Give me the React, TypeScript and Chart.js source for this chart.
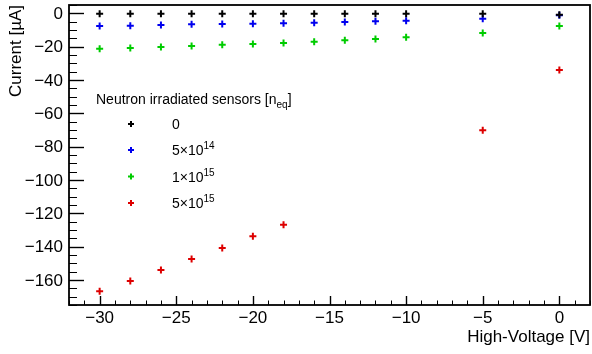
import React, { useEffect, useRef } from "react";
import { Chart, registerables } from "chart.js";

Chart.register(...registerables);

const voltages = [-30, -28, -26, -24, -22, -20, -18, -16, -14, -12, -10, -5, 0];
const current0 = [-0.3, -0.3, -0.3, -0.3, -0.3, -0.3, -0.3, -0.3, -0.3, -0.3, -0.3, -0.3, -0.8];
const current5e14 = [-7.6, -7.4, -7.0, -6.6, -6.4, -6.2, -6.0, -5.6, -5.2, -4.8, -4.4, -3.2, -1.2];
const current1e15 = [-21.2, -20.8, -20.2, -19.6, -18.8, -18.4, -17.8, -17.0, -16.2, -15.4, -14.4, -11.8, -7.6];
const voltages5e15 = [-30, -28, -26, -24, -22, -20, -18, -5, 0];
const current5e15 = [-166.8, -160.6, -154.0, -147.4, -140.8, -133.8, -126.8, -70.2, -34.0];

const xTickValues = [-30, -25, -20, -15, -10, -5, 0];
const yTickValues = [-160, -140, -120, -100, -80, -60, -40, -20, 0];
const xTitle = "High-Voltage [V]";
const yTitle = "Current [\u00b5A]";

const legendTitle = "Neutron irradiated sensors [n";
const legendTitleSub = "eq";
const legendEntries = [
  { base: "0", exp: "", color: "#000000" },
  { base: "5\u00d710", exp: "14", color: "#0000ee" },
  { base: "1\u00d710", exp: "15", color: "#00cc00" },
  { base: "5\u00d710", exp: "15", color: "#dd0000" },
];

const FONT = "'Liberation Sans', Arial, Helvetica, sans-serif";

const fmt = (v: number) => (v < 0 ? "\u2212" + Math.abs(v) : String(v));

const rootPlugin = {
  id: "rootStyle",
  afterDraw(chart: any) {
    const ctx = chart.ctx as CanvasRenderingContext2D;
    const { left, right, top, bottom } = chart.chartArea;
    const xs = chart.scales.x;
    const ys = chart.scales.y;
    ctx.save();
    ctx.strokeStyle = "#000";
    // x ticks
    for (let v = -32; v <= 2; v += 1) {
      const px = Math.round(xs.getPixelForValue(v)) + 0.5;
      const major = v % 5 === 0;
      ctx.lineWidth = major ? 1.4 : 1;
      ctx.beginPath();
      ctx.moveTo(px, bottom);
      ctx.lineTo(px, bottom - (major ? 9 : 4.5));
      ctx.stroke();
    }
    // y ticks
    for (let v = -175; v <= 5; v += 5) {
      const py = Math.round(ys.getPixelForValue(v)) + 0.5;
      const major = v % 20 === 0;
      ctx.lineWidth = major ? 1.4 : 1;
      ctx.beginPath();
      ctx.moveTo(left, py);
      ctx.lineTo(left + (major ? 15 : 8), py);
      ctx.stroke();
    }
    // frame
    ctx.lineWidth = 1.8;
    ctx.strokeRect(left, top, right - left, bottom - top);

    // tick labels
    ctx.fillStyle = "#000";
    ctx.font = `17px ${FONT}`;
    ctx.textAlign = "right";
    ctx.textBaseline = "middle";
    yTickValues.forEach((v) => {
      ctx.fillText(fmt(v), left - 6, ys.getPixelForValue(v) + 1);
    });
    ctx.textAlign = "center";
    ctx.textBaseline = "alphabetic";
    xTickValues.forEach((v) => {
      ctx.fillText(fmt(v), xs.getPixelForValue(v), bottom + 18);
    });
    // axis titles
    ctx.textAlign = "right";
    ctx.fillText(xTitle, right, bottom + 37);
    ctx.save();
    ctx.translate(21, top);
    ctx.rotate(-Math.PI / 2);
    ctx.textAlign = "right";
    ctx.fillText(yTitle, 0, 0);
    ctx.restore();

    // legend
    ctx.fillStyle = "#000";
    ctx.textBaseline = "alphabetic";
    ctx.textAlign = "left";
    ctx.font = `14px ${FONT}`;
    const tx = 96;
    const ty = 104;
    ctx.fillText(legendTitle, tx, ty);
    const w = ctx.measureText(legendTitle).width;
    ctx.font = `10px ${FONT}`;
    ctx.fillText(legendTitleSub, tx + w, ty + 4);
    const ws = ctx.measureText(legendTitleSub).width;
    ctx.font = `14px ${FONT}`;
    ctx.fillText("]", tx + w + ws, ty);

    const rows = [124, 150, 176.5, 203];
    legendEntries.forEach((e, i) => {
      const y = rows[i];
      ctx.strokeStyle = e.color;
      ctx.lineWidth = 2;
      ctx.beginPath();
      ctx.moveTo(128, y);
      ctx.lineTo(134, y);
      ctx.moveTo(131, y - 3);
      ctx.lineTo(131, y + 3);
      ctx.stroke();
      ctx.fillStyle = "#000";
      ctx.font = `14px ${FONT}`;
      ctx.fillText(e.base, 172, y + 5);
      if (e.exp) {
        const bw = ctx.measureText(e.base).width;
        ctx.font = `10px ${FONT}`;
        ctx.fillText(e.exp, 172 + bw, y - 1);
      }
    });
    ctx.restore();
  },
};

function makeData(xv: number[], yv: number[]) {
  return xv.map((x, i) => ({ x, y: yv[i] }));
}

export default function App() {
  const ref = useRef<HTMLCanvasElement | null>(null);
  useEffect(() => {
    document.body.style.margin = "0";
    const canvas = ref.current;
    if (!canvas) return;
    const ds = (label: string, xv: number[], yv: number[], color: string) => ({
      label,
      data: makeData(xv, yv),
      showLine: false,
      pointStyle: "cross",
      pointRadius: 3.5,
      pointBorderWidth: 2,
      borderColor: color,
      backgroundColor: color,
      pointHoverRadius: 3.5,
    });
    const chart = new Chart(canvas, {
      type: "scatter",
      data: {
        datasets: [
          ds("0", voltages, current0, legendEntries[0].color),
          ds("5e14", voltages, current5e14, legendEntries[1].color),
          ds("1e15", voltages, current1e15, legendEntries[2].color),
          ds("5e15", voltages5e15, current5e15, legendEntries[3].color),
        ] as any,
      },
      options: {
        animation: false,
        responsive: false,
        events: [],
        layout: { autoPadding: false, padding: { left: 0, right: 2, top: 5, bottom: 0 } },
        plugins: { legend: { display: false }, tooltip: { enabled: false } },
        scales: {
          x: {
            type: "linear",
            min: -32,
            max: 2,
            afterFit: (s: any) => {
              s.height = 49;
              s.paddingLeft = 0;
              s.paddingRight = 0;
            },
            grid: { display: false },
            border: { display: false },
            ticks: { display: false },
          },
          y: {
            type: "linear",
            min: -175,
            max: 5,
            afterFit: (s: any) => {
              s.width = 69;
              s.paddingTop = 0;
              s.paddingBottom = 0;
            },
            grid: { display: false },
            border: { display: false },
            ticks: { display: false },
          },
        },
      } as any,
      plugins: [rootPlugin],
    });
    return () => chart.destroy();
  }, []);
  return (
    <div style={{ position: "fixed", left: 0, top: 0, width: 592, height: 354, background: "#fff" }}>
      <canvas ref={ref} width={592} height={354} style={{ display: "block" }} />
    </div>
  );
}
